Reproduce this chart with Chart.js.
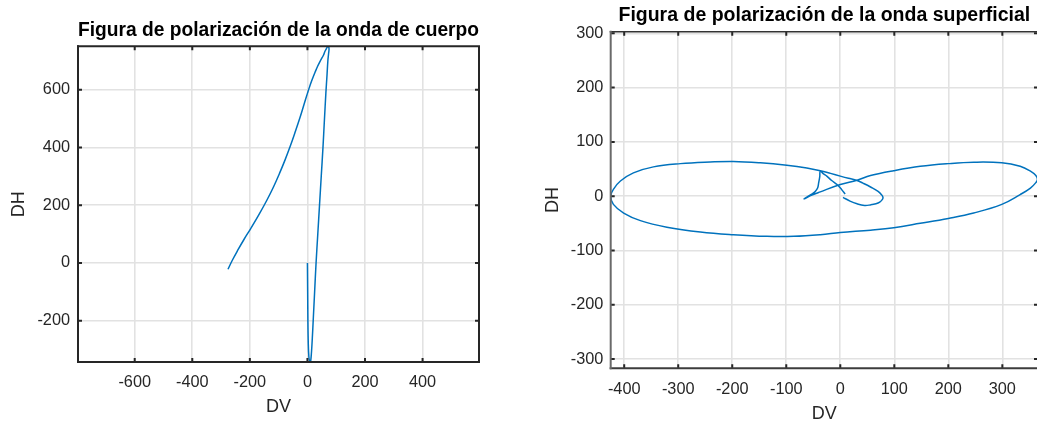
<!DOCTYPE html>
<html>
<head>
<meta charset="utf-8">
<script src="https://cdn.jsdelivr.net/npm/chart.js@4.4.1/dist/chart.umd.min.js"></script>
<style>
  html, body { margin: 0; padding: 0; background: #fff; }
  body { width: 1037px; height: 421px; overflow: hidden; position: relative; }
  .panel { position: absolute; top: 0; }
</style>
</head>
<body>
<div class="panel" style="left:0"><canvas id="cuerpo" width="520" height="440"></canvas></div>
<div class="panel" style="left:520px"><canvas id="superficial" width="530" height="440"></canvas></div>
<script>
// Body wave particle motion (DV vs DH)
const bodyDV = [0, 0.8, 1.6, 3, 5, 7.5, 9.5, 11.5, 14, 17, 20, 25, 30, 36, 42, 48, 54, 59, 64, 68, 71, 73.5, 75, 74, 72, 69, 66, 61, 56, 45, 35, 26.5, 18.5, 11, 4.3, 0, -12.7, -25, -42, -60.5, -78, -97, -118, -141, -168, -197, -220, -242, -260, -276];
const bodyDH = [0, -100, -200, -280, -325, -341, -343, -338, -310, -260, -200, -100, 0, 100, 200, 300, 400, 495, 587, 650, 700, 725, 740, 748, 750, 747.5, 742, 733, 720, 700, 680, 660, 640, 620, 600, 587, 546, 506, 455, 402, 356, 310, 263, 217, 168, 119, 82, 44, 11, -22];
const bodyTicksDV = [-600, -400, -200, 0, 200, 400];
const bodyTicksDH = [-200, 0, 200, 400, 600];

// Surface wave particle motion (DV vs DH)
const surfDV = [5, 18, 31, 45, 56, 66, 73, 78, 79, 77, 70, 56, 42, 31, 15, 0, -18, -37, -62, -99, -148, -198, -241, -296, -346, -383, -407, -419, -425, -420, -401, -370, -321, -259, -198, -136, -86, -37, 0, 56, 99, 148, 200, 247, 299, 333, 352, 362, 365, 362, 352, 333, 299, 247, 200, 148, 99, 56, 31, 0, -37, -55, -67, -56, -47, -42, -40, -38, -37, -31, -25, -16, -6, 2, 9];
const surfDH = [-2, -9, -14, -17, -16, -14, -11, -6, -2, 2, 9, 17, 24, 29, 33, 37, 42, 47, 52, 57, 61.5, 64, 63, 60, 54, 43, 28, 14, 0, -15, -31, -45, -57, -66, -71, -74, -74, -71, -67, -62.5, -58, -50, -41, -31, -15, 3, 15, 25, 31, 38, 46, 55, 61.5, 62.6, 60, 55, 47, 38, 29.5, 21.5, 8, 1, -5, 2, 8, 15, 25, 36, 46, 41, 37, 29, 21.5, 13, 4];
const surfTicksDV = [-400, -300, -200, -100, 0, 100, 200, 300];
const surfTicksDH = [-300, -200, -100, 0, 100, 200, 300];

const titles = ['Figura de polarización de la onda de cuerpo', 'Figura de polarización de la onda superficial'];
const axisNames = ['DV', 'DH'];

const FONT = "'Liberation Sans', Arial, Helvetica, sans-serif";
const TEXT = '#262626';
const LINE = '#0072BD';

function points(xs, ys) {
  return xs.map((v, i) => ({ x: v, y: ys[i] }));
}

// Box around the plot area plus inward tick marks on all four sides
const axesBox = {
  id: 'axesBox',
  afterDatasetsDraw(chart, args, o) {
    const { ctx, chartArea: a } = chart;
    const x = chart.scales.x, y = chart.scales.y;
    ctx.save();
    ctx.lineCap = 'butt';
    ctx.strokeStyle = o.tickColor;
    ctx.lineWidth = o.tickWidth;
    const L = o.tickLen;
    ctx.beginPath();
    x.ticks.forEach(t => {
      const p = x.getPixelForValue(t.value);
      ctx.moveTo(p, a.bottom); ctx.lineTo(p, a.bottom - L);
      ctx.moveTo(p, a.top); ctx.lineTo(p, a.top + L);
    });
    y.ticks.forEach(t => {
      const p = y.getPixelForValue(t.value);
      ctx.moveTo(a.left, p); ctx.lineTo(a.left + L, p);
      ctx.moveTo(a.right, p); ctx.lineTo(a.right - L, p);
    });
    ctx.stroke();
    const side = (c, w, x1, y1, x2, y2) => {
      ctx.strokeStyle = c; ctx.lineWidth = w;
      ctx.beginPath(); ctx.moveTo(x1, y1); ctx.lineTo(x2, y2); ctx.stroke();
    };
    side(o.topColor, o.topWidth, a.left - 1, a.top, a.right + 1, a.top);
    side(o.rightColor, o.rightWidth, a.right, a.top, a.right, a.bottom);
    side(o.bottomColor, o.bottomWidth, a.left - 1, a.bottom, a.right + 1, a.bottom);
    side(o.leftColor, o.leftWidth, a.left, a.top - 1, a.left, a.bottom + 1);
    ctx.restore();
  }
};

function makeChart(id, cfg) {
  const fixX = s => { s.height = cfg.xHeight; s.paddingLeft = 0; s.paddingRight = 0; s.paddingTop = 0; s.paddingBottom = 0; };
  const fixY = s => { s.width = cfg.yWidth; s.paddingLeft = 0; s.paddingRight = 0; s.paddingTop = 0; s.paddingBottom = 0; };
  return new Chart(document.getElementById(id), {
    type: 'scatter',
    data: {
      datasets: [{
        data: points(cfg.dv, cfg.dh),
        showLine: true,
        borderColor: LINE,
        borderWidth: 1.5,
        pointRadius: 0,
        tension: 0.4,
        fill: false
      }]
    },
    options: {
      responsive: false,
      animation: false,
      devicePixelRatio: 1,
      layout: { padding: { left: 0, top: 0, right: cfg.padRight, bottom: 0 } },
      plugins: {
        legend: { display: false },
        tooltip: { enabled: false },
        title: {
          display: true,
          text: cfg.title,
          color: '#000',
          fullSize: false,
          font: { family: FONT, size: cfg.titleSize, weight: 'bold', lineHeight: 1.2 },
          padding: { top: cfg.titleTop, bottom: cfg.titleBottom }
        },
        axesBox: cfg.box
      },
      scales: {
        x: {
          type: 'linear',
          min: cfg.xMin, max: cfg.xMax,
          afterBuildTicks: s => { s.ticks = cfg.xTicks.map(v => ({ value: v })); },
          afterFit: fixX,
          grid: { color: '#e2e2e2', lineWidth: 1.6, drawTicks: false },
          border: { display: false },
          ticks: { color: TEXT, padding: cfg.xTickPad, maxRotation: 0, autoSkip: false,
                   font: { family: FONT, size: 16.3 }, callback: v => String(v) },
          title: { display: true, text: axisNames[0], color: TEXT,
                   font: { family: FONT, size: 18, lineHeight: 1.2 },
                   padding: { top: 0, bottom: cfg.xTitlePad } }
        },
        y: {
          type: 'linear',
          min: cfg.yMin, max: cfg.yMax,
          afterBuildTicks: s => { s.ticks = cfg.yTicks.map(v => ({ value: v })); },
          afterFit: fixY,
          grid: { color: '#e2e2e2', lineWidth: 1.6, drawTicks: false },
          border: { display: false },
          ticks: { color: TEXT, padding: cfg.yTickPad, autoSkip: false,
                   font: { family: FONT, size: 16.3 }, callback: v => String(v) },
          title: { display: true, text: axisNames[1], color: TEXT,
                   font: { family: FONT, size: 18, lineHeight: 1.2 },
                   padding: { top: cfg.yTitlePad, bottom: 0 } }
        }
      }
    },
    plugins: [axesBox]
  });
}

makeChart('cuerpo', {
  dv: bodyDV, dh: bodyDH, xTicks: bodyTicksDV, yTicks: bodyTicksDH,
  xMin: -797, xMax: 596, yMin: -343, yMax: 750,
  title: titles[0], titleSize: 20.2, titleTop: 18.3, titleBottom: 3.76,
  padRight: 41, yWidth: 78, xHeight: 78,
  xTickPad: 11, xTitlePad: 21.7, yTickPad: 8, yTitlePad: 8.4,
  box: { tickColor: '#262626', tickWidth: 2, tickLen: 4,
         topColor: '#262626', topWidth: 2, rightColor: '#262626', rightWidth: 2,
         bottomColor: '#262626', bottomWidth: 2, leftColor: '#262626', leftWidth: 2 }
});

makeChart('superficial', {
  dv: surfDV, dh: surfDH, xTicks: surfTicksDV, yTicks: surfTicksDH,
  xMin: -425, xMax: 366, yMin: -317, yMax: 303,
  title: titles[1], titleSize: 19.5, titleTop: 4, titleBottom: 4.3,
  padRight: 12, yWidth: 90.7, xHeight: 71.7,
  xTickPad: 11.1, xTitlePad: 15.6, yTickPad: 7.4, yTitlePad: 22.4,
  box: { tickColor: '#262626', tickWidth: 2, tickLen: 4,
         topColor: '#333333', topWidth: 1.5, rightColor: '#333333', rightWidth: 1.5,
         bottomColor: '#3c3c3c', bottomWidth: 2, leftColor: '#6a6a6a', leftWidth: 2 }
});
</script>
</body>
</html>
